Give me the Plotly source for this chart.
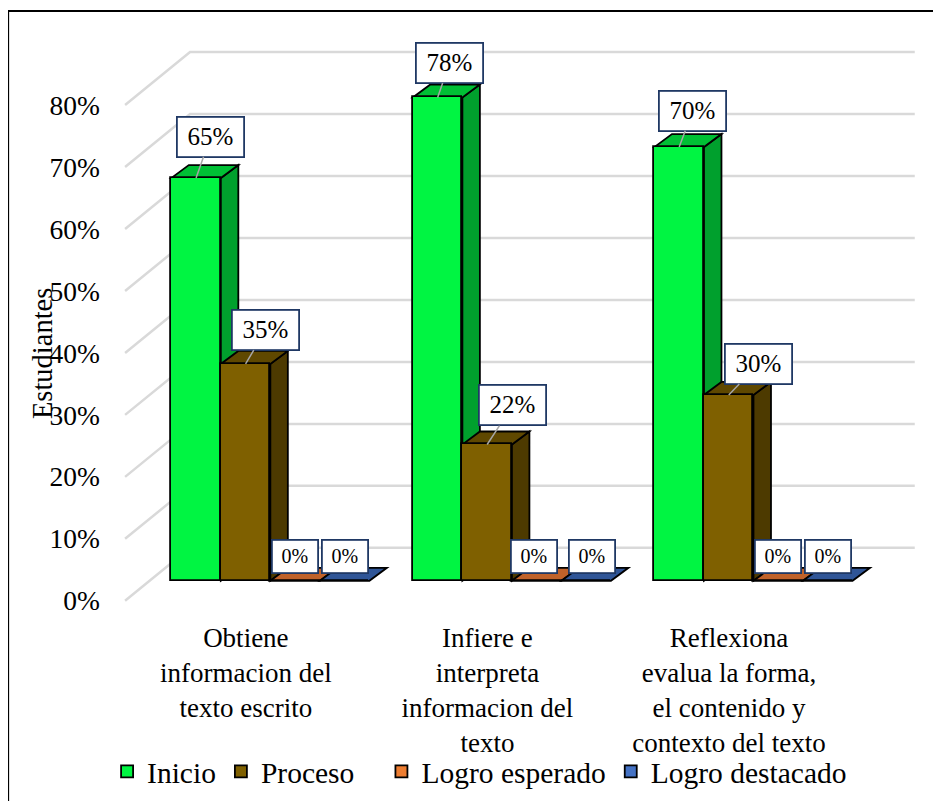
import plotly.graph_objects as go

# ---------------- data ----------------
categories = ["Obtiene<br>informacion del<br>texto escrito",
              "Infiere e<br>interpreta<br>informacion del<br>texto",
              "Reflexiona<br>evalua la forma,<br>el contenido y<br>contexto del texto"]
series_names = ["Inicio", "Proceso", "Logro esperado", "Logro destacado"]
inicio = [65, 78, 70]
proceso = [35, 22, 30]
logro_esperado = [0, 0, 0]
logro_destacado = [0, 0, 0]
y_ticks = [0, 10, 20, 30, 40, 50, 60, 70, 80]
y_title = "Estudiantes"

# ---------------- styles / geometry ----------------
FONT = "'Liberation Serif', 'Times New Roman', Times, 'DejaVu Serif', serif"
front_colors = ["#00F542", "#7F6000", "#ED7D31", "#4472C4"]
side_colors = ["#00A02D", "#4D3A00", "#9E4E1E", "#2A4A80"]
top_colors = ["#00C035", "#5F4800", "#C0622A", "#2F5597"]

OFF = 8            # page body margin of the html page
W = 0.205          # bar width (category units)
PPU = 241.67       # px per category unit
PPY = 6.2          # px per percent
KX, KY = 65 / PPU, 53 / PPY       # wall depth offset
DX1, DY1 = 24.5 / PPU, 20 / PPY   # bar front plane offset
SX, SY = 17.5 / PPU, 13 / PPY     # bar depth

X0PX = 125 - OFF   # px of x=-0.5 (front plane left)
Y0PX = 601 - OFF   # px of y=0 (front plane)
xr = [-0.55, 2.5 + KX + 0.03]
yr = [-1.0, 90.5]
FIG_W, FIG_H = 941 - OFF, 801 - OFF
ml = X0PX - 0.05 * PPU
mr = FIG_W - (X0PX + (xr[1] + 0.5) * PPU)
mt = Y0PX - yr[1] * PPY
mb = FIG_H - (Y0PX - yr[0] * PPY)
plot_w = FIG_W - ml - mr
plot_h = FIG_H - mt - mb


def px2paper(px, py):
    """reference-picture pixel -> paper coords"""
    px -= OFF
    py -= OFF
    return (px - ml) / plot_w, (FIG_H - mb - py) / plot_h


series_vals = [inicio, proceso, logro_esperado, logro_destacado]

fig = go.Figure()
shapes = []

# walls / gridlines
GRID = "#D9D9D9"
for v in y_ticks:
    path = (f"M{-0.5},{v} L{-0.5 + KX},{v + KY} L{2.5 + KX},{v + KY}")
    shapes.append(dict(type="path", path=path, xref="x", yref="y", layer="below",
                       line=dict(color=GRID, width=2.5)))

# 3D side & top faces
for g in range(len(categories)):
    for s, vals in enumerate(series_vals):
        v = vals[g]
        c = g + (s - 1.5) * W
        xL, xR = c - W / 2 + DX1, c + W / 2 + DX1
        yB, yT = DY1, v + DY1
        side = (f"M{xR},{yB} L{xR + SX},{yB + SY} L{xR + SX},{yT + SY} L{xR},{yT} Z")
        top = (f"M{xL},{yT} L{xR},{yT} L{xR + SX},{yT + SY} L{xL + SX},{yT + SY} Z")
        if v > 0:
            shapes.append(dict(type="path", path=side, xref="x", yref="y", layer="below",
                               fillcolor=side_colors[s], line=dict(color="black", width=1.8)))
        shapes.append(dict(type="path", path=top, xref="x", yref="y", layer="below",
                           fillcolor=top_colors[s], line=dict(color="black", width=1.8)))

# front faces
legend_pad = ["", "\u00a0\u00a0\u00a0", "", ""]
for s, vals in enumerate(series_vals):
    xs = [g + (s - 1.5) * W + DX1 for g in range(len(categories))]
    fig.add_trace(go.Bar(
        x=xs, y=vals, base=DY1, width=W,
        name=series_names[s] + legend_pad[s],
        marker=dict(color=front_colors[s], line=dict(color="black", width=1.8)),
        hoverinfo="skip"))

# data labels
label_offsets = [
    [(14.5, -41.5), (12, -34.5), (13.5, -36.5)],
    [(20, -34), (25.5, -39), (30, -31)],
    [(0, -24), (-2.5, -24), (0, -24)],
    [(0, -24), (6, -24), (0, -24)],
]
annotations = []
for s, vals in enumerate(series_vals):
    for g in range(len(categories)):
        v = vals[g]
        c = g + (s - 1.5) * W + DX1
        ax, ay = label_offsets[s][g]
        big = v > 0
        annotations.append(dict(
            x=c, y=v + DY1, xref="x", yref="y", text=f"{v}%",
            showarrow=True, arrowhead=0, arrowwidth=1.5,
            arrowcolor="#A6A6A6" if big else "rgba(0,0,0,0)",
            ax=ax, ay=ay, axref="pixel", ayref="pixel",
            font=dict(family=FONT, size=25 if big else 20, color="black"),
            bgcolor="white", bordercolor="#1F3864", borderwidth=1.8, borderpad=1,
            width=63 if big else 42, height=36 if big else 29,
            align="center", valign="middle"))

# axis title
tx, ty = px2paper(43, 354)
annotations.append(dict(x=tx, y=ty, xref="paper", yref="paper", text=y_title,
                        textangle=-90, showarrow=False, xanchor="center", yanchor="middle",
                        font=dict(family=FONT, size=28.5, color="black")))

# outer frame
fx0, fy0 = px2paper(8, 11)
fx1, fy1 = px2paper(950, 812)
shapes.append(dict(type="rect", xref="paper", yref="paper", x0=fx0, y0=fy1, x1=fx1, y1=fy0,
                   line=dict(color="black", width=2), layer="above"))

lx, ly = px2paper(107, 772)
fig.update_layout(
    width=FIG_W, height=FIG_H,
    margin=dict(l=ml, r=mr, t=mt, b=mb, pad=0, autoexpand=False),
    paper_bgcolor="white", plot_bgcolor="white",
    barmode="overlay", bargap=0,
    shapes=shapes, annotations=annotations,
    font=dict(family=FONT, color="black"),
    xaxis=dict(range=xr, tickvals=[0, 1, 2], ticktext=categories, showgrid=False,
               zeroline=False, showline=False, ticks="", ticklabelstandoff=12,
               automargin=False,
               tickfont=dict(family=FONT, size=27, color="black")),
    yaxis=dict(range=yr, tickvals=y_ticks, ticktext=[f"{t}%" for t in y_ticks],
               showgrid=False, zeroline=False, showline=False, ticks="",
               automargin=False,
               ticklabelstandoff=12, tickfont=dict(family=FONT, size=27.5, color="black")),
    legend=dict(orientation="h", x=lx, y=ly, xanchor="left", yanchor="middle",
                font=dict(family=FONT, size=29.5, color="black"), itemwidth=30,
                bgcolor="rgba(0,0,0,0)"),
    showlegend=True,
)

fig.write_html("out.html")
